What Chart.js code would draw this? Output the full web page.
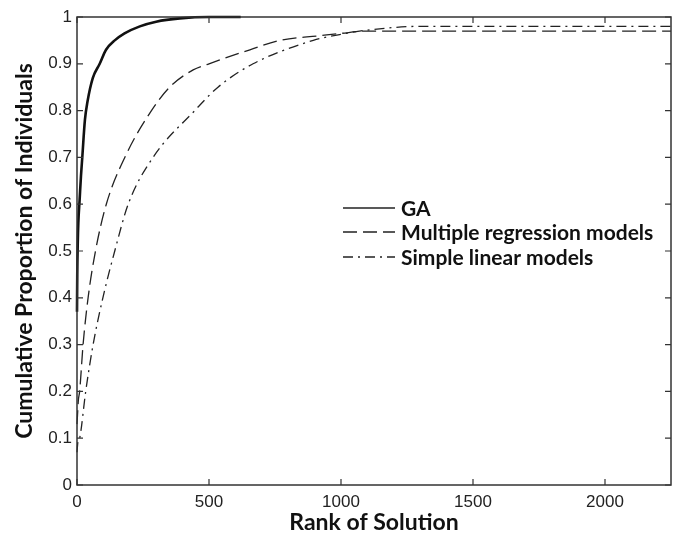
<!DOCTYPE html>
<html>
<head>
<meta charset="utf-8">
<script src="https://cdn.jsdelivr.net/npm/chart.js@4"></script>
<style>
  html, body { margin: 0; padding: 0; background: #fff; }
  #wrap { width: 678px; height: 536px; }
</style>
</head>
<body>
<div id="wrap"><canvas id="chart" width="678" height="536"></canvas></div>
<script>
// Data
const gaRank = [0, 1, 3, 5, 10, 15, 20, 30, 40, 60, 86, 110, 143, 180, 238, 300, 390, 500, 620];
const gaProp = [0.37, 0.45, 0.52, 0.56, 0.61, 0.66, 0.70, 0.78, 0.82, 0.87, 0.90, 0.93, 0.95, 0.965, 0.98, 0.99, 0.997, 1.0, 1.0];

const mrRank = [0, 2, 5, 10, 23, 42, 70, 111, 181, 282, 351, 440, 500, 655, 768, 920, 1000, 1100, 2250];
const mrProp = [0.13, 0.15, 0.18, 0.20, 0.30, 0.40, 0.50, 0.60, 0.70, 0.80, 0.85, 0.887, 0.90, 0.93, 0.95, 0.96, 0.965, 0.97, 0.97];

const slRank = [0, 3, 10, 33, 61, 98, 143, 194, 288, 446, 534, 667, 895, 1000, 1100, 1300, 2250];
const slProp = [0.07, 0.09, 0.10, 0.20, 0.30, 0.40, 0.50, 0.60, 0.70, 0.80, 0.85, 0.90, 0.95, 0.963, 0.972, 0.98, 0.98];

const xTicks = [0, 500, 1000, 1500, 2000];
const legendLabels = ['GA', 'Multiple regression models', 'Simple linear models'];

const toPoints = (xs, ys) => xs.map((x, i) => ({ x: x, y: ys[i] }));

// inward ticks + frame, matlab style
const frameTicks = {
    id: 'frameTicks',
    afterDraw(chart) {
        const ctx = chart.ctx;
        const a = chart.chartArea;
        const xs = chart.scales.x, ys = chart.scales.y;
        ctx.save();
        ctx.strokeStyle = '#333';
        ctx.lineWidth = 1.5;
        ctx.strokeRect(a.left, a.top, a.right - a.left, a.bottom - a.top);
        ctx.lineWidth = 1.2;
        ctx.beginPath();
        xs.ticks.forEach(t => {
            const px = xs.getPixelForValue(t.value);
            ctx.moveTo(px, a.bottom); ctx.lineTo(px, a.bottom - 6);
            ctx.moveTo(px, a.top); ctx.lineTo(px, a.top + 6);
        });
        ys.ticks.forEach(t => {
            const py = ys.getPixelForValue(t.value);
            ctx.moveTo(a.left, py); ctx.lineTo(a.left + 6, py);
            ctx.moveTo(a.right, py); ctx.lineTo(a.right - 6, py);
        });
        ctx.stroke();
        ctx.restore();
    }
};

// legend inside the axes
const innerLegend = {
    id: 'innerLegend',
    afterDraw(chart) {
        const ctx = chart.ctx;
        const x0 = 343, x1 = 395, tx = 401;
        const rows = [208, 232, 257];
        ctx.save();
        ctx.font = 'bold 21px Lato';
        ctx.fillStyle = '#111';
        ctx.textBaseline = 'middle';
        chart.data.datasets.forEach((ds, i) => {
            ctx.strokeStyle = '#222';
            ctx.lineWidth = 1.3;
            ctx.setLineDash(ds.borderDash || []);
            ctx.beginPath();
            ctx.moveTo(x0, rows[i]);
            ctx.lineTo(x1, rows[i]);
            ctx.stroke();
            ctx.setLineDash([]);
            ctx.fillText(legendLabels[i], tx, rows[i] + 1);
        });
        ctx.restore();
    }
};

new Chart(document.getElementById('chart'), {
    type: 'scatter',
    data: {
        datasets: [
            {
                label: legendLabels[0],
                data: toPoints(gaRank, gaProp),
                showLine: true,
                borderColor: '#111',
                borderWidth: 2.6,
                pointRadius: 0,
                cubicInterpolationMode: 'monotone'
            },
            {
                label: legendLabels[1],
                data: toPoints(mrRank, mrProp),
                showLine: true,
                borderColor: '#222',
                borderWidth: 1.3,
                borderDash: [14, 6],
                pointRadius: 0,
                cubicInterpolationMode: 'monotone'
            },
            {
                label: legendLabels[2],
                data: toPoints(slRank, slProp),
                showLine: true,
                borderColor: '#222',
                borderWidth: 1.3,
                borderDash: [10, 5, 2, 5],
                pointRadius: 0,
                cubicInterpolationMode: 'monotone'
            }
        ]
    },
    options: {
        responsive: false,
        animation: false,
        clip: false,
        layout: { padding: { top: 17, right: 7, left: 0, bottom: 0 } },
        plugins: { legend: { display: false }, tooltip: { enabled: false } },
        scales: {
            x: {
                type: 'linear',
                min: 0,
                max: 2250,
                grid: { display: false, drawTicks: false },
                border: { display: false },
                afterBuildTicks: s => { s.ticks = xTicks.map(v => ({ value: v })); },
                afterFit: s => { s.height = 51; },
                ticks: {
                    padding: 7,
                    color: '#222',
                    font: { family: 'Liberation Sans', size: 17 },
                    maxRotation: 0,
                    callback: v => String(v)
                },
                title: {
                    display: true,
                    text: 'Rank of Solution',
                    color: '#111',
                    font: { family: 'Lato', size: 23, weight: 'bold' },
                    padding: { top: 0, bottom: 0 }
                }
            },
            y: {
                min: 0,
                max: 1,
                grid: { display: false, drawTicks: false },
                border: { display: false },
                afterFit: s => { s.width = 77; },
                ticks: {
                    stepSize: 0.1,
                    padding: 5,
                    color: '#222',
                    font: { family: 'Liberation Sans', size: 17 },
                    callback: v => String(Math.round(v * 10) / 10)
                },
                title: {
                    display: true,
                    text: 'Cumulative Proportion of Individuals',
                    color: '#111',
                    font: { family: 'Lato', size: 23, weight: 'bold' },
                    padding: { top: 11, bottom: 0 }
                }
            }
        }
    },
    plugins: [frameTicks, innerLegend]
});
</script>
</body>
</html>
